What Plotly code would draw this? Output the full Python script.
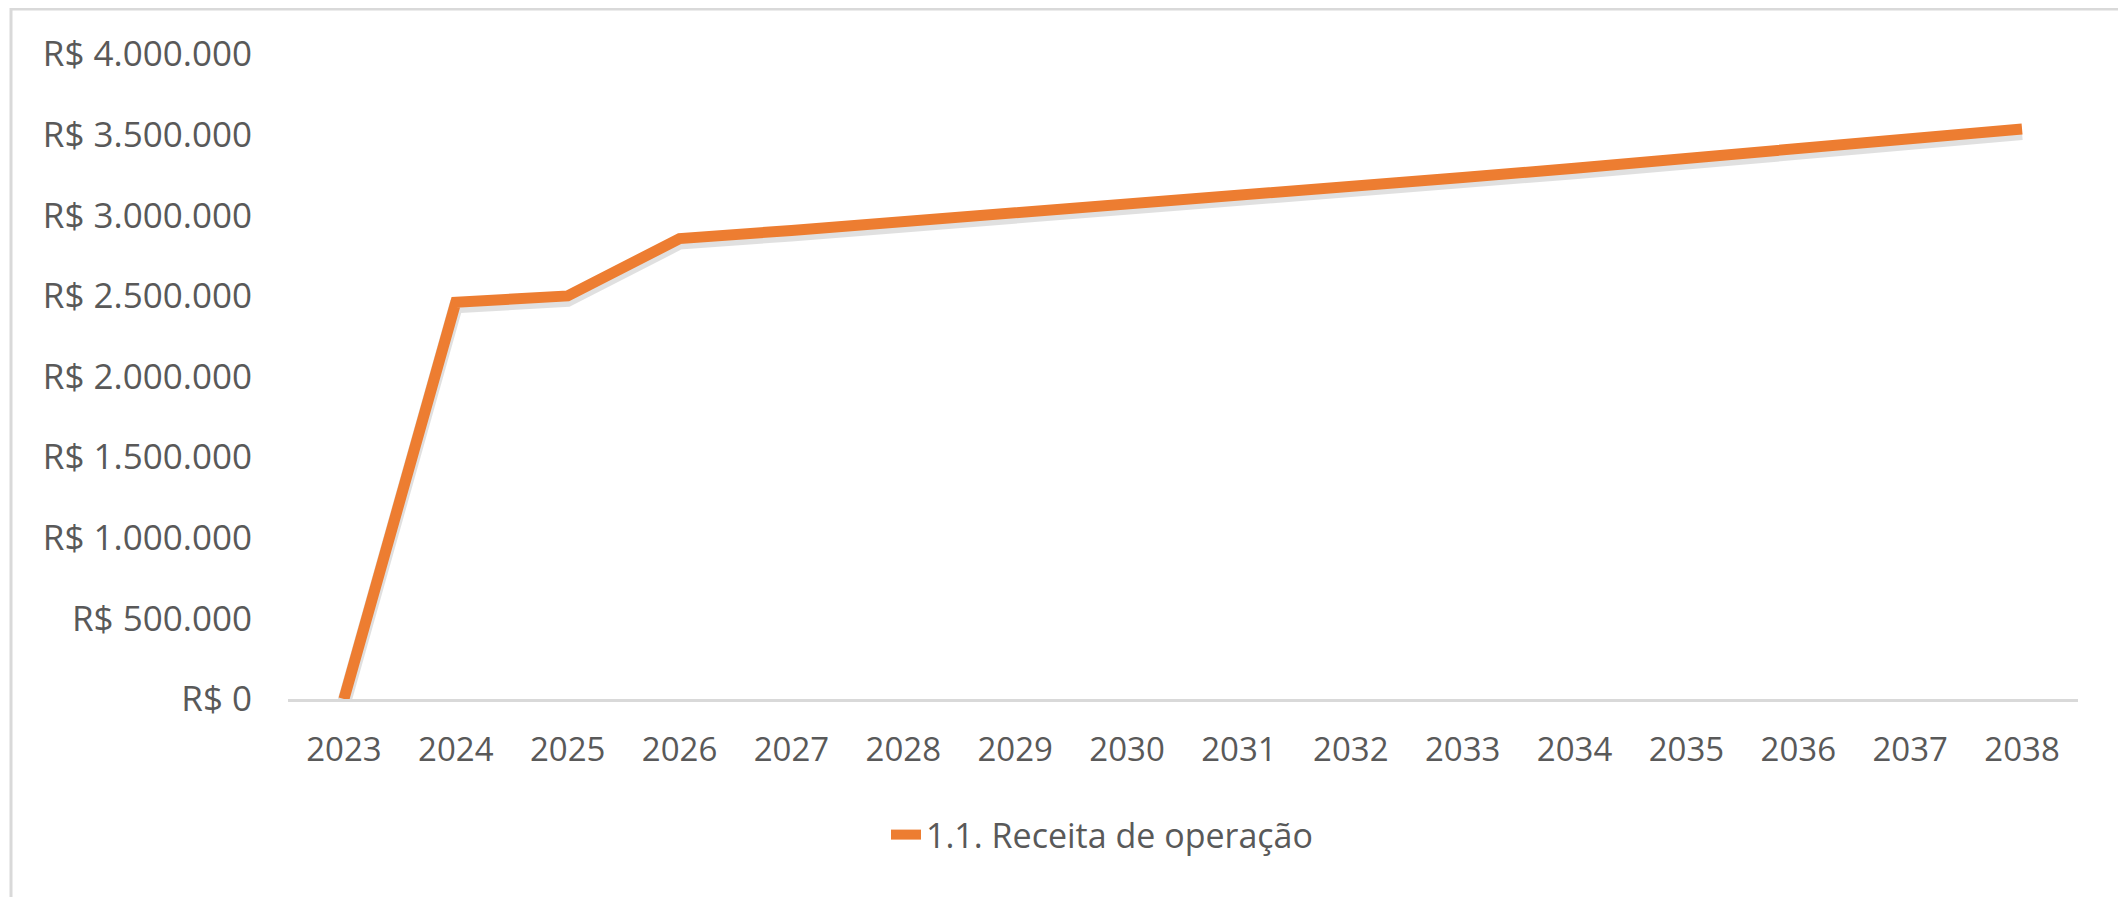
import plotly.graph_objects as go

years = [str(y) for y in range(2023, 2039)]
receita = [0, 2460000, 2500000, 2855000, 2906000, 2958000, 3012000, 3066000,
           3121000, 3177000, 3234000, 3292000, 3351000, 3412000, 3473000, 3535000]
series_name = "1.1. Receita de operação"
y_ticks = [0, 500000, 1000000, 1500000, 2000000, 2500000, 3000000, 3500000, 4000000]
y_ticktext = ["R$ " + f"{v:,.0f}".replace(",", ".") for v in y_ticks]

# page body has an 8px margin; work in reference pixel coords minus that offset
OFF = 8
W, H = 2126 - OFF, 897 - OFF
plot_left, plot_right, plot_top, plot_bottom = 288 - OFF, 2078 - OFF, 54 - OFF, 699 - OFF
L, R, T, B = plot_left, W - plot_right, plot_top, H - plot_bottom
pw, ph = W - L - R, H - T - B
text_color = "#595959"
font_family = "Open Sans, Calibri, sans-serif"
shadow_px = 4
y_max = 4000000
shift = y_max / ph * shadow_px

fig = go.Figure()
fig.add_trace(go.Scatter(x=years, y=receita, mode="lines", yaxis="y",
                         line=dict(color="rgba(0,0,0,0)", width=0),
                         showlegend=False, hoverinfo="skip"))
fig.add_trace(go.Scatter(x=years, y=receita, mode="lines", yaxis="y2",
                         line=dict(color="rgba(0,0,0,0.12)", width=14),
                         showlegend=False, hoverinfo="skip"))
fig.add_trace(go.Scatter(x=years, y=receita, mode="lines", name=series_name,
                         yaxis="y3", line=dict(color="#ED7D31", width=11)))

def px_x(v):
    return (v - OFF - L) / pw

def px_y(v):
    return (H - B - (v - OFF)) / ph

fig.update_layout(
    width=W, height=H,
    margin=dict(l=L, r=R, t=T, b=B),
    paper_bgcolor="white", plot_bgcolor="white",
    font=dict(family=font_family, size=33, color=text_color),
    showlegend=True,
    legend=dict(orientation="h", x=px_x(886), xanchor="left",
                y=px_y(835), yanchor="middle",
                font=dict(size=34, color=text_color), bgcolor="rgba(0,0,0,0)"),
    xaxis=dict(type="category", range=[-0.5, len(years) - 0.5],
               showgrid=False, zeroline=False,
               showline=True, linecolor="#D9D9D9", linewidth=3,
               ticks="", tickfont=dict(size=33, color=text_color),
               ticklabelstandoff=19),
    yaxis=dict(range=[0, y_max], tickvals=y_ticks, ticktext=y_ticktext,
               showgrid=False, zeroline=False,
               showline=False, ticks="", ticklabelstandoff=35,
               tickfont=dict(size=35, color=text_color)),
    yaxis2=dict(range=[shift, y_max + shift], overlaying="y", visible=False),
    yaxis3=dict(range=[0, y_max], overlaying="y", visible=False),
    shapes=[dict(type="rect", xref="paper", yref="paper",
                 x0=px_x(11), x1=px_x(2124), y0=px_y(920), y1=px_y(9),
                 line=dict(color="#D9D9D9", width=3), layer="below")],
    hovermode=False,
)

fig.write_html("out.html")
